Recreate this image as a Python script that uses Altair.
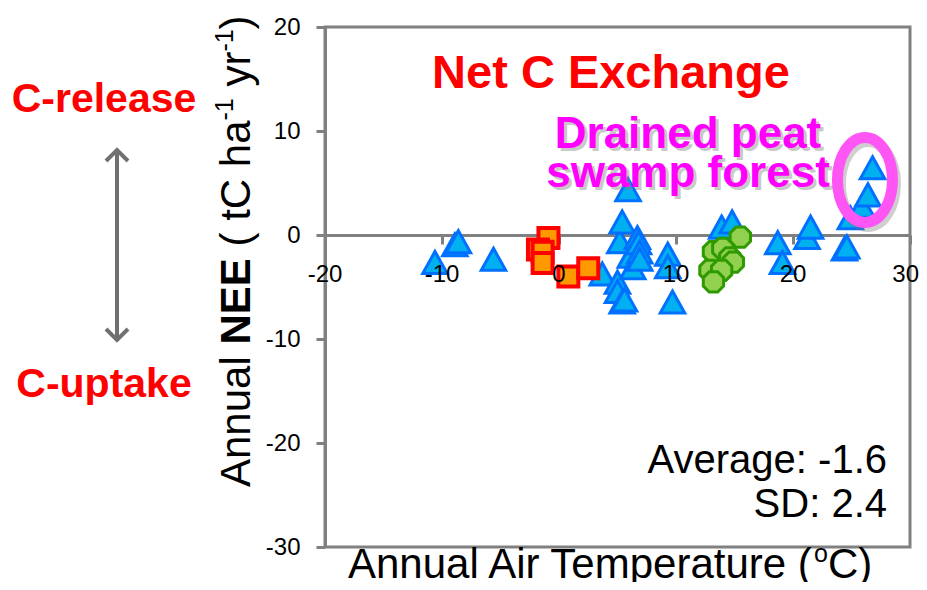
import altair as alt
import pandas as pd

# ---- data ----
tri_temp = [-10.6, -8.9, -8.6, -5.6, 3.7, 5.0, 5.0, 5.2, 5.4, 5.4, 5.6, 5.9, 6.1, 6.3, 6.7, 6.8, 6.9, 6.9,
            9.3, 9.3, 9.7, 13.9, 14.8, 18.7, 19.1, 21.2, 21.5, 24.4, 24.6, 24.9, 25.9, 26.4, 26.8]
tri_nee = [-2.7, -1.0, -0.7, -2.4, -3.8, -4.6, -5.5, -0.7, 1.2, -6.5, -6.3, 4.3, -2.1, -3.2, -0.3, -0.8, -1.7, -2.4,
           -1.9, -3.1, -6.5, 0.7, 1.2, -0.8, -2.7, -0.3, 0.7, -1.4, -1.2, 1.6, 2.7, 3.8, 6.4]
sq_temp = [-0.9, -1.8, -1.4, -1.4, 0.8, 2.5]
sq_nee = [-0.3, -1.4, -1.6, -2.7, -4.0, -3.2]
hex_temp = [15.5, 13.2, 14.0, 14.6, 14.9, 12.9, 13.9, 13.2]
hex_nee = [-0.2, -1.6, -1.3, -2.2, -2.6, -3.4, -3.4, -4.5]
ellipse_center = {"t": [26.15], "nee": [5.3]}

x_ticks = [-20, -10, 0, 10, 20, 30]
x_tick_labels = ["-20", "-10", "0", "10", "20", "30"]
y_ticks = [-30, -20, -10, 0, 10, 20]

FONT = "Liberation Sans"
GRAY = "#808080"

W, H = 585, 520
x_scale = alt.Scale(domain=[-20, 30], nice=False, zero=False)
y_scale = alt.Scale(domain=[-30, 20], nice=False, zero=False)
zero_px_from_bottom = H * 30 / 50

x_axis = alt.Axis(values=x_ticks, orient="bottom", offset=-zero_px_from_bottom, domainColor=GRAY,
                  domainWidth=3, tickColor=GRAY, tickWidth=3, tickSize=9, labels=False,
                  grid=False, title=None)
y_axis = alt.Axis(values=y_ticks, orient="left", domainColor=GRAY, domainWidth=3, tickColor=GRAY,
                  tickWidth=3, tickSize=9, labelFontSize=24, labelFont=FONT, labelColor="black",
                  labelPadding=16, grid=False, title=None, labelFlush=False, labelOverlap=False,
                  labelExpr="'' + datum.value")

tri_df = pd.DataFrame({"t": tri_temp, "nee": tri_nee})
sq_df = pd.DataFrame({"t": sq_temp, "nee": sq_nee})
hex_df = pd.DataFrame({"t": hex_temp, "nee": hex_nee})

enc = dict(x=alt.X("t:Q", scale=x_scale, axis=x_axis), y=alt.Y("nee:Q", scale=y_scale, axis=y_axis))

TRI = "M 0 -0.95 L 1 0.85 L -1 0.85 Z"
tri = alt.Chart(tri_df).mark_point(shape=TRI, filled=True, fill="#00B0F0", stroke="#0070FF",
                                   strokeWidth=3, size=600, opacity=1).encode(**enc)
sq = alt.Chart(sq_df).mark_point(shape="square", filled=True, fill="#FF9900", stroke="#FF0000",
                                 strokeWidth=4, size=400, opacity=1).encode(**enc)
OCT = ("M 0.924 0.383 L 0.383 0.924 L -0.383 0.924 L -0.924 0.383 L -0.924 -0.383 "
       "L -0.383 -0.924 L 0.383 -0.924 L 0.924 -0.383 Z")
hexm = alt.Chart(hex_df).mark_point(shape=OCT, filled=True, fill="#92D050", stroke="#2E9A00",
                                    strokeWidth=3, size=484, opacity=1).encode(**enc)

ELL = ("M 0 -1 C 0.357 -1 0.647 -0.552 0.647 0 C 0.647 0.552 0.357 1 0 1 "
       "C -0.357 1 -0.647 0.552 -0.647 0 C -0.647 -0.552 -0.357 -1 0 -1 Z")
ell_df = pd.DataFrame(ellipse_center)
ell_shadow = alt.Chart(ell_df).mark_point(shape=ELL, filled=False, stroke="#777777", strokeWidth=11,
                                          size=7225, opacity=0.35, xOffset=3, yOffset=4).encode(
    x=alt.X("t:Q", scale=x_scale), y=alt.Y("nee:Q", scale=y_scale))
ell = alt.Chart(ell_df).mark_point(shape=ELL, filled=False, stroke="#FF55F5", strokeWidth=11,
                                   size=7225, opacity=1).encode(
    x=alt.X("t:Q", scale=x_scale), y=alt.Y("nee:Q", scale=y_scale))

# x tick labels drawn on top of the markers, hanging below the zero line
xlab_df = pd.DataFrame({"t": x_ticks[:-1], "lab": x_tick_labels[:-1]})
xlabels = alt.Chart(xlab_df).mark_text(font=FONT, fontSize=24, color="black", baseline="middle",
                                       align="center", dy=40).encode(
    x=alt.X("t:Q", scale=x_scale), y=alt.YDatum(0, scale=y_scale), text="lab:N")
xlab_last = pd.DataFrame({"t": x_ticks[-1:], "lab": x_tick_labels[-1:]})
xlabels_last = alt.Chart(xlab_last).mark_text(font=FONT, fontSize=24, color="black", baseline="middle",
                                              align="right", dx=9, dy=40).encode(
    x=alt.X("t:Q", scale=x_scale), y=alt.YDatum(0, scale=y_scale), text="lab:N")

one = pd.DataFrame({"a": [0]})


def txt(s, x, y, size, color="black", bold=False, align="left", angle=0, opacity=1.0):
    kw = dict(text=s, font=FONT, fontSize=size, color=color, align=align, baseline="alphabetic",
              fontWeight="bold" if bold else "normal", opacity=opacity)
    if angle:
        kw["angle"] = angle
    return alt.Chart(one).mark_text(**kw).encode(x=alt.value(x), y=alt.value(y))


layers = [tri, sq, hexm, ell_shadow, ell, xlabels, xlabels_last]

# titles / annotations
layers.append(txt("Net C Exchange", 286, 61, 47, "#FF0000", True, "center"))
for dx, dy, col, op in [(3, 3, "#888888", 0.45), (0, 0, "#FF00FF", 1.0)]:
    layers.append(txt("Drained peat", 363 + dx, 121 + dy, 44, col, True, "center", opacity=op))
    layers.append(txt("swamp forest", 363 + dx, 160 + dy, 44, col, True, "center", opacity=op))
layers.append(txt("C-release", -221, 85, 41, "#FF0000", True, "center"))
layers.append(txt("C-uptake", -221, 370, 41, "#FF0000", True, "center"))
layers.append(txt("Average: -1.6", 562, 446, 40, "black", False, "right"))
layers.append(txt("SD: 2.4", 562, 490, 40, "black", False, "right"))

# x-axis title with superscript o
layers.append(txt("Annual Air Temperature (", 23, 551, 42))
layers.append(txt("o", 489, 535, 25))
layers.append(txt("C)", 503, 551, 42))

# y-axis title, rotated, built from pieces (leading spaces are collapsed in SVG, so shift instead)
xb = -75
layers.append(txt("Annual", xb, 460, 42, angle=270))
layers.append(txt("NEE", xb, 317.6, 42, bold=True, angle=270))
layers.append(txt("( tC ha", xb, 219.5, 42, angle=270))
layers.append(txt("-1", xb - 17, 93.5, 25, angle=270))
layers.append(txt("yr", xb, 59.6, 42, angle=270))
layers.append(txt("-1", xb - 17, 24.6, 25, angle=270))
layers.append(txt(")", xb, 2.4, 42, angle=270))

# double-headed arrow
AGRAY = "#707070"
layers.append(alt.Chart(one).mark_rule(color=AGRAY, strokeWidth=4).encode(
    x=alt.value(-208), y=alt.value(125), y2=alt.value(311)))
layers.append(alt.Chart(one).mark_point(shape="M -1 1 L 0 0 L 1 1", filled=False, stroke=AGRAY,
                                        strokeWidth=4, size=484, opacity=1).encode(
    x=alt.value(-208), y=alt.value(123)))
layers.append(alt.Chart(one).mark_point(shape="M -1 -1 L 0 0 L 1 -1", filled=False, stroke=AGRAY,
                                        strokeWidth=4, size=484, opacity=1).encode(
    x=alt.value(-208), y=alt.value(313)))

chart = alt.layer(*layers).properties(
    width=W, height=H,
    padding={"left": 317, "top": 19, "right": 9, "bottom": 35},
    autosize=alt.AutoSizeParams(type="none"),
    background="white",
).configure_view(stroke=GRAY, strokeWidth=3)

chart.save("out.html", embed_options={"renderer": "svg", "actions": False})
